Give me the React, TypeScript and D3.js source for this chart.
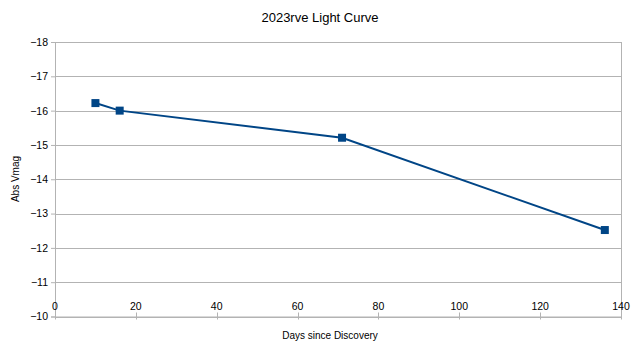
import { useEffect, useRef } from 'react';
import * as d3 from 'd3';

const days = [10, 16, 71, 136];
const absVmag = [-16.22, -16.0, -15.21, -12.52];
const xTicks = [0, 20, 40, 60, 80, 100, 120, 140];
const yTicks = [-18, -17, -16, -15, -14, -13, -12, -11, -10];

export default function App() {
  const svgRef = useRef<SVGSVGElement>(null);

  useEffect(() => {
    if (!svgRef.current) return;
    const svg = d3.select(svgRef.current);
    svg.selectAll('*').remove();

    const W = 639, H = 354;
    const margin = { top: 42, right: 18, bottom: 37.5, left: 55 };
    const width = W - margin.left - margin.right;
    const height = H - margin.top - margin.bottom;
    const font = '"Liberation Sans", Arial, sans-serif';

    svg.attr('width', W).attr('height', H);
    svg.append('rect').attr('width', W).attr('height', H).attr('fill', '#fff');

    const g = svg.append('g').attr('transform', `translate(${margin.left},${margin.top})`);

    const x = d3.scaleLinear().domain([0, 140]).range([0, width]);
    const y = d3.scaleLinear().domain([-18, -10]).range([0, height]);

    // horizontal gridlines
    g.selectAll('.grid')
      .data(yTicks)
      .enter().append('line')
      .attr('x1', 0).attr('x2', width)
      .attr('y1', d => Math.round(y(d)) + 0.5).attr('y2', d => Math.round(y(d)) + 0.5)
      .attr('stroke', '#b3b3b3').attr('stroke-width', 1);

    // right border
    g.append('line')
      .attr('x1', width + 0.5).attr('x2', width + 0.5)
      .attr('y1', 0).attr('y2', height)
      .attr('stroke', '#b3b3b3');

    // y axis
    g.append('g')
      .call(d3.axisLeft(y).tickValues(yTicks).tickSize(4).tickPadding(3).tickFormat(d3.format('d')))
      .call(a => a.select('.domain').attr('stroke', '#b3b3b3'))
      .call(a => a.selectAll('line').attr('stroke', '#b3b3b3'))
      .call(a => a.selectAll('text')
        .attr('fill', '#000').attr('font-size', '10.5px').attr('font-family', font));

    // x axis: ticks below bottom line, labels inside above it
    const xa = g.append('g').attr('transform', `translate(0,${height})`);
    xa.append('line')
      .attr('x1', 0).attr('x2', width).attr('y1', 0.5).attr('y2', 0.5)
      .attr('stroke', '#b3b3b3');
    xa.selectAll('.xt')
      .data(xTicks)
      .enter().append('line')
      .attr('x1', d => Math.round(x(d)) + 0.5).attr('x2', d => Math.round(x(d)) + 0.5)
      .attr('y1', -4).attr('y2', 3)
      .attr('stroke', '#b3b3b3');
    xa.selectAll('.xl')
      .data(xTicks)
      .enter().append('text')
      .attr('x', d => x(d))
      .attr('y', -6.5)
      .attr('text-anchor', 'middle')
      .attr('fill', '#000').attr('font-size', '10.5px').attr('font-family', font)
      .text(d => d);

    const pts = days.map((d, i) => ({ d, m: absVmag[i] }));

    const line = d3.line<{ d: number; m: number }>()
      .x(p => x(p.d)).y(p => y(p.m));

    g.append('path')
      .datum(pts)
      .attr('d', line)
      .attr('fill', 'none')
      .attr('stroke', '#004586')
      .attr('stroke-width', 2);

    const ms = 8;
    g.selectAll('.marker')
      .data(pts)
      .enter().append('rect')
      .attr('x', p => x(p.d) - ms / 2)
      .attr('y', p => y(p.m) - ms / 2)
      .attr('width', ms).attr('height', ms)
      .attr('fill', '#004586');

    // titles
    svg.append('text')
      .attr('x', 320).attr('y', 22)
      .attr('text-anchor', 'middle')
      .attr('font-size', '13px').attr('font-family', font)
      .text('2023rve Light Curve');

    svg.append('text')
      .attr('x', 330).attr('y', 339)
      .attr('text-anchor', 'middle')
      .attr('font-size', '10px').attr('font-family', font)
      .text('Days since Discovery');

    svg.append('text')
      .attr('transform', `translate(19,179) rotate(-90)`)
      .attr('text-anchor', 'middle')
      .attr('font-size', '10px').attr('font-family', font)
      .text('Abs Vmag');
  }, []);

  return (
    <div style={{ position: 'fixed', left: 0, top: 0 }}>
      <svg ref={svgRef} style={{ display: 'block' }} />
    </div>
  );
}
